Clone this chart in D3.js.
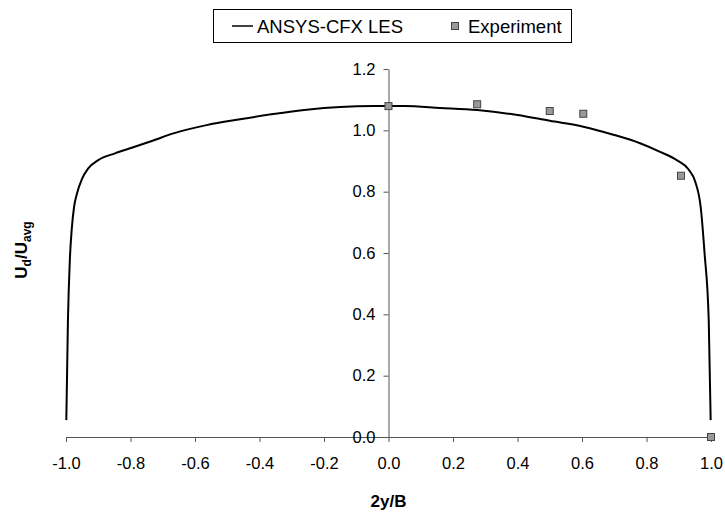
<!DOCTYPE html>
<html>
<head>
<meta charset="utf-8">
<script src="https://cdn.jsdelivr.net/npm/d3@7"></script>
<style>
  body { margin: 0; background: #fff; }
  svg { font-family: Arial, "Liberation Sans", sans-serif; }
</style>
</head>
<body>
<div id="chart"></div>
<script>
// LES profile
const lesX = [-0.999, -0.994, -0.988, -0.982, -0.975, -0.967, -0.951, -0.931, -0.900, -0.848,
  -0.796, -0.734, -0.667, -0.564, -0.460, -0.357, -0.254, -0.150, -0.047, 0.05,
  0.16, 0.275, 0.40, 0.50, 0.604, 0.70, 0.78, 0.842, 0.895, 0.93,
  0.952, 0.968, 0.98, 0.993, 0.999];
const lesY = [0.055, 0.38, 0.58, 0.68, 0.75, 0.79, 0.84, 0.876, 0.903, 0.925,
  0.943, 0.965, 0.99, 1.017, 1.036, 1.053, 1.067, 1.076, 1.079, 1.079,
  1.073, 1.066, 1.05, 1.031, 1.012, 0.985, 0.958, 0.930, 0.902, 0.873,
  0.830, 0.75, 0.60, 0.38, 0.055];

// experiment points
const expX = [0.0, 0.275, 0.50, 0.604, 0.907, 1.0];
const expY = [1.079, 1.085, 1.063, 1.054, 0.852, 0.0];

const xTicks = [-1.0, -0.8, -0.6, -0.4, -0.2, 0.0, 0.2, 0.4, 0.6, 0.8, 1.0];
const yTicks = [0.0, 0.2, 0.4, 0.6, 0.8, 1.0, 1.2];

const width = 725, height = 513;

const svg = d3.select("#chart")
  .append("svg")
  .attr("width", width)
  .attr("height", height);

const x = d3.scaleLinear().domain([-1, 1]).range([66, 711]);
const y = d3.scaleLinear().domain([0, 1.2]).range([437, 69]);

const fmt = d => d.toFixed(1);

// x axis on y = 0
const xAxis = svg.append("g")
  .attr("transform", `translate(0, ${y(0)})`)
  .call(d3.axisBottom(x).tickValues(xTicks).tickFormat(fmt)
    .tickSizeInner(5).tickSizeOuter(0).tickPadding(15));
xAxis.select(".domain").attr("stroke", "#555");
xAxis.selectAll(".tick line").attr("stroke", "#555");
xAxis.selectAll("text").style("font-size", "16.5px").attr("fill", "#000");

// y axis on x = 0
const yAxis = svg.append("g")
  .attr("transform", `translate(${x(0)}, 0)`)
  .call(d3.axisLeft(y).tickValues(yTicks).tickFormat(fmt)
    .tickSizeInner(5).tickSizeOuter(0).tickPadding(8));
yAxis.select(".domain").attr("stroke", "#555");
yAxis.selectAll(".tick line").attr("stroke", "#555");
yAxis.selectAll("text").style("font-size", "16.5px").attr("fill", "#000");

// LES line
const lesData = lesX.map((v, i) => ({ x: v, y: lesY[i] }));
svg.append("path")
  .datum(lesData)
  .attr("fill", "none")
  .attr("stroke", "#000")
  .attr("stroke-width", 2)
  .attr("d", d3.line().x(d => x(d.x)).y(d => y(d.y)).curve(d3.curveMonotoneX));

// experiment markers
const expData = expX.map((v, i) => ({ x: v, y: expY[i] }));
svg.selectAll(".exp")
  .data(expData)
  .join("rect")
  .attr("class", "exp")
  .attr("x", d => x(d.x) - 3.5)
  .attr("y", d => y(d.y) - 3.5)
  .attr("width", 7)
  .attr("height", 7)
  .attr("fill", "#999")
  .attr("stroke", "#444")
  .attr("stroke-width", 1);

// axis titles
svg.append("text")
  .attr("x", x(0))
  .attr("y", 507)
  .attr("text-anchor", "middle")
  .style("font-size", "17px")
  .style("font-weight", "bold")
  .text("2y/B");

const yt = svg.append("text")
  .attr("transform", `translate(27, 250) rotate(-90)`)
  .attr("text-anchor", "middle")
  .style("font-size", "17px")
  .style("font-weight", "bold");
yt.append("tspan").text("U");
yt.append("tspan").attr("dy", 4).style("font-size", "12px").text("d");
yt.append("tspan").attr("dy", -4).text("/U");
yt.append("tspan").attr("dy", 4).style("font-size", "12px").text("avg");

// legend
const legend = svg.append("g");
legend.append("rect")
  .attr("x", 213.5).attr("y", 9.5)
  .attr("width", 358).attr("height", 33)
  .attr("fill", "#fff").attr("stroke", "#000");
legend.append("line")
  .attr("x1", 232).attr("x2", 253).attr("y1", 26).attr("y2", 26)
  .attr("stroke", "#000").attr("stroke-width", 1.5);
legend.append("text")
  .attr("x", 257).attr("y", 32.5)
  .style("font-size", "18.5px")
  .text("ANSYS-CFX LES");
legend.append("rect")
  .attr("x", 451.5).attr("y", 22.5)
  .attr("width", 7).attr("height", 7)
  .attr("fill", "#999").attr("stroke", "#444");
legend.append("text")
  .attr("x", 468).attr("y", 32.5)
  .style("font-size", "18.5px")
  .text("Experiment");
</script>
</body>
</html>
